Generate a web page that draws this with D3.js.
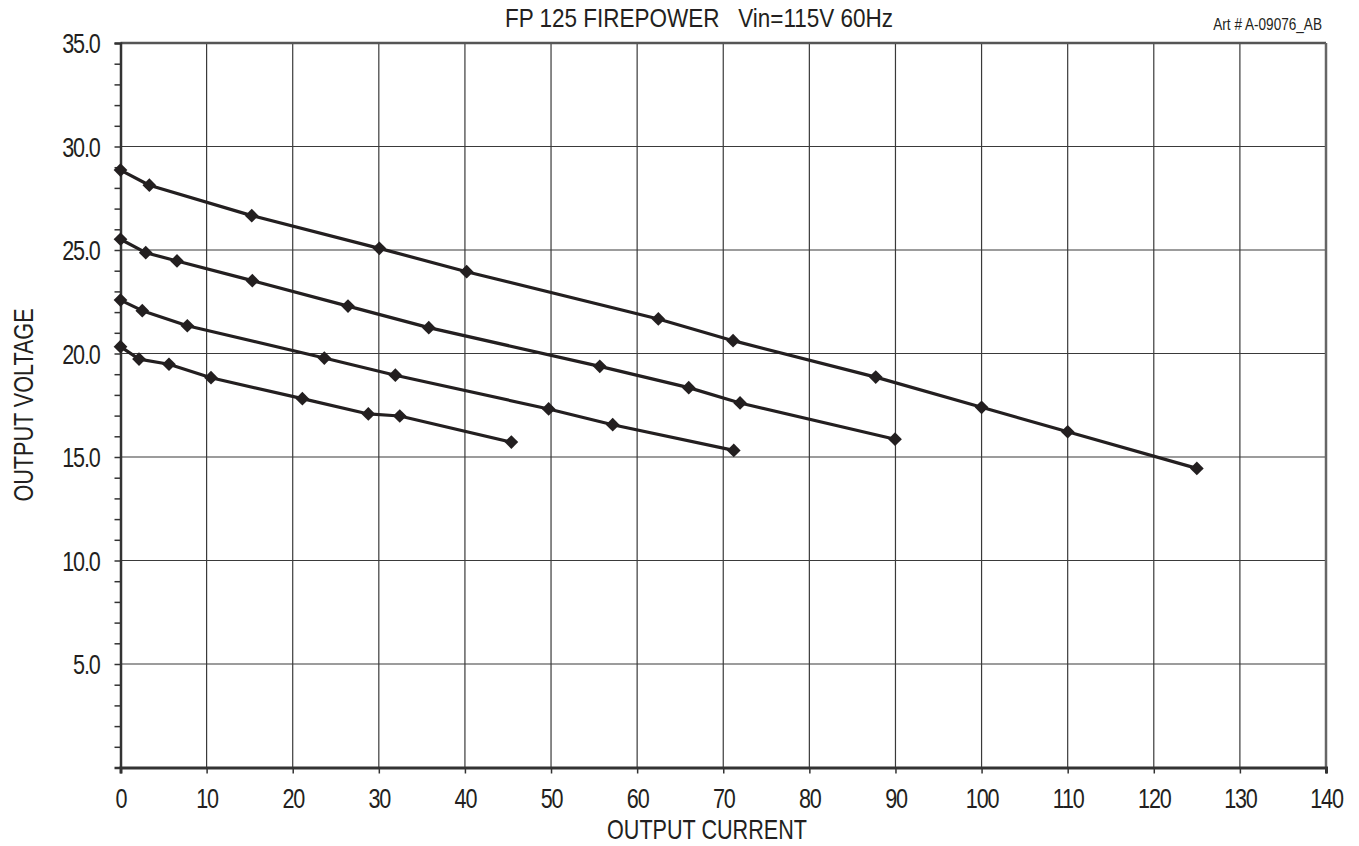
<!DOCTYPE html>
<html>
<head>
<meta charset="utf-8">
<script src="https://cdn.jsdelivr.net/npm/d3@7"></script>
<style>
  body { margin: 0; background: #fff; }
  svg text { font-family: "Liberation Sans", Arial, sans-serif; fill: #231f20; }
</style>
</head>
<body>
<svg id="chart" width="1359" height="846"></svg>
<script>
// data (current A, voltage V), one array per curve
var curveA = [[0, 28.86], [3.35, 28.13], [15.24, 26.66], [30.06, 25.08], [40.2, 23.95], [62.46, 21.67],
              [71.14, 20.62], [87.71, 18.86], [100.0, 17.40], [110.0, 16.22], [125.0, 14.45]];
var curveB = [[0, 25.52], [2.93, 24.87], [6.56, 24.47], [15.31, 23.52], [26.42, 22.29], [35.8, 21.25],
              [55.66, 19.38], [65.99, 18.35], [71.95, 17.61], [89.95, 15.86]];
var curveC = [[0, 22.58], [2.53, 22.07], [7.76, 21.34], [23.67, 19.78], [31.92, 18.95], [49.72, 17.32],
              [57.16, 16.56], [71.22, 15.32]];
var curveD = [[0, 20.33], [2.15, 19.73], [5.63, 19.48], [10.51, 18.83], [21.12, 17.82], [28.78, 17.08],
              [32.43, 16.98], [45.39, 15.72]];
var curves = [curveA, curveB, curveC, curveD];

var xTicks = [0, 10, 20, 30, 40, 50, 60, 70, 80, 90, 100, 110, 120, 130, 140];
var yTicks = [5, 10, 15, 20, 25, 30, 35];

var chartTitle = "FP 125 FIREPOWER\u00a0\u00a0\u00a0Vin=115V 60Hz";
var artLabel = "Art # A-09076_AB";
var xTitle = "OUTPUT CURRENT";
var yTitle = "OUTPUT VOLTAGE";

var svg = d3.select("#chart");
var margin = { top: 43, right: 33, bottom: 78.5, left: 120.5 };
var width = 1359 - margin.left - margin.right;
var height = 846 - margin.top - margin.bottom;

var x = d3.scaleLinear().domain([0, 140]).range([0, width]);
var y = d3.scaleLinear().domain([0, 35]).range([height, 0]);

// text placed at (tx, ty) and squeezed horizontally for a condensed look
var addText = function(parent, tx, ty, size, anchor, str, squeeze, extra) {
    return parent.append("g")
        .attr("transform", "translate(" + tx + "," + ty + ")" + (extra || "") + " scale(" + squeeze + ",1)")
        .append("text")
        .attr("text-anchor", anchor)
        .attr("font-size", size)
        .text(str);
};

var graph = svg.append("g").attr("transform", "translate(" + margin.left + "," + margin.top + ")");

// grid
graph.append("g")
    .selectAll("line")
    .data(xTicks.slice(1, -1))
    .join("line")
    .attr("x1", d => x(d)).attr("x2", d => x(d))
    .attr("y1", 0).attr("y2", height)
    .attr("stroke", "#3a3a3a").attr("stroke-width", 1.2);
graph.append("g")
    .selectAll("line")
    .data(yTicks.slice(0, -1))
    .join("line")
    .attr("x1", 0).attr("x2", width)
    .attr("y1", d => y(d)).attr("y2", d => y(d))
    .attr("stroke", "#3a3a3a").attr("stroke-width", 1.2);

// frame top / right
graph.append("line").attr("x1", 0).attr("x2", width).attr("y1", 0).attr("y2", 0)
    .attr("stroke", "#555").attr("stroke-width", 2.5);
graph.append("line").attr("x1", width).attr("x2", width).attr("y1", 0).attr("y2", height)
    .attr("stroke", "#666").attr("stroke-width", 2.5);

// y axis, minor ticks every 1
var yAxis = graph.append("g")
    .call(d3.axisLeft(y).tickValues(d3.range(1, 36)).tickSize(6).tickFormat(""));
yAxis.select(".domain").attr("stroke", "#333").attr("stroke-width", 2.5);
yAxis.selectAll(".tick line").attr("stroke", "#333").attr("stroke-width", 1.5);
yAxis.selectAll(".tick").filter(d => yTicks.indexOf(d) >= 0)
    .each(function(d) {
        addText(d3.select(this), -21, 9.5, 27, "end", d.toFixed(1), 0.8).attr("letter-spacing", -1.5);
    });

// x axis
var xAxis = graph.append("g")
    .attr("transform", "translate(0," + height + ")")
    .call(d3.axisBottom(x).tickValues(xTicks).tickSize(6).tickFormat(""));
xAxis.select(".domain").attr("stroke", "#333").attr("stroke-width", 3);
xAxis.selectAll(".tick line").attr("stroke", "#333").attr("stroke-width", 1.5);
xAxis.selectAll(".tick")
    .each(function(d) {
        addText(d3.select(this), 0, 40, 27, "middle", d, 0.8).attr("letter-spacing", -1.5);
    });

// curves
var line = d3.line().x(d => x(d[0])).y(d => y(d[1]));
var diamond = d3.symbol().type(d3.symbolDiamond2).size(120);

curves.forEach(function(c) {
    graph.append("path")
        .datum(c)
        .attr("fill", "none")
        .attr("stroke", "#231f20")
        .attr("stroke-width", 3.2)
        .attr("stroke-linejoin", "round")
        .attr("d", line);
    graph.append("g")
        .selectAll("path")
        .data(c)
        .join("path")
        .attr("transform", d => "translate(" + x(d[0]) + "," + y(d[1]) + ")")
        .attr("d", diamond)
        .attr("fill", "#231f20");
});

// texts
addText(svg, 699, 27, 25, "middle", chartTitle, 0.9);
addText(svg, 1322, 30, 17, "end", artLabel, 0.8);
addText(svg, 707, 839, 27, "middle", xTitle, 0.8);
addText(svg, 33, 405, 27, "middle", yTitle, 0.8, " rotate(-90)");
</script>
</body>
</html>
